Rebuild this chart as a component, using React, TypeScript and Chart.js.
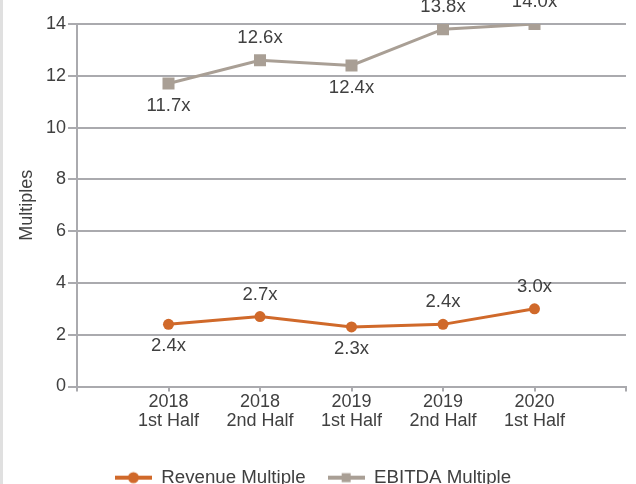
import React, { useEffect, useRef } from "react";
import { Chart, registerables } from "chart.js";

Chart.register(...registerables);

const YEARS = ["2018", "2018", "2019", "2019", "2020"];
const HALVES = ["1st Half", "2nd Half", "1st Half", "2nd Half", "1st Half"];
const REVENUE = [2.4, 2.7, 2.3, 2.4, 3.0];
const EBITDA = [11.7, 12.6, 12.4, 13.8, 14.0];
const REVENUE_LABEL_POS = ["below", "above", "below", "above", "above"];
const EBITDA_LABEL_POS = ["below", "above", "below", "above", "above"];
const Y_MIN = 0;
const Y_MAX = 14;
const Y_STEP = 2;
const SERIES_NAMES = ["Revenue Multiple", "EBITDA Multiple"];

const ORANGE = "#d0692a";
const TAUPE = "#a99f95";
const GRID = "#aaaaae";
const TEXT = "#404040";
const FONT = "'Liberation Sans', Arial, Helvetica, sans-serif";

function makeLegendIcon(color: string, kind: "circle" | "square") {
  const c = document.createElement("canvas");
  c.width = 37;
  c.height = 14;
  const ctx = c.getContext("2d")!;
  ctx.strokeStyle = color;
  ctx.lineWidth = 4;
  ctx.beginPath();
  ctx.moveTo(0, 7);
  ctx.lineTo(37, 7);
  ctx.stroke();
  ctx.fillStyle = color;
  if (kind === "circle") {
    ctx.beginPath();
    ctx.arc(18.5, 7, 5.5, 0, Math.PI * 2);
    ctx.fill();
  } else {
    ctx.fillRect(14, 2.5, 9, 9);
  }
  return c;
}

const valueLabels = {
  id: "valueLabels",
  afterDatasetsDraw(chart: any) {
    const ctx = chart.ctx;
    ctx.save();
    ctx.font = `18.5px ${FONT}`;
    ctx.fillStyle = TEXT;
    ctx.textAlign = "center";
    ctx.textBaseline = "middle";
    chart.data.datasets.forEach((ds: any, di: number) => {
      const meta = chart.getDatasetMeta(di);
      const posArr = ds.labelPos as string[];
      meta.data.forEach((pt: any, i: number) => {
        const v = ds.data[i];
        if (v === null || v === undefined) return;
        const pos = posArr[i - 1];
        const dy = pos === "above" ? -22 : 22;
        ctx.fillText(`${v.toFixed(1)}x`, pt.x, pt.y + dy);
      });
    });
    ctx.restore();
  },
};

export default function App() {
  const ref = useRef<HTMLCanvasElement | null>(null);

  useEffect(() => {
    if (!ref.current) return;
    const labels: any[] = ["", ...YEARS.map((y, i) => [y, HALVES[i]]), ""];
    const icons = [makeLegendIcon(ORANGE, "circle"), makeLegendIcon(TAUPE, "square")];
    const chart = new Chart(ref.current, {
      type: "line",
      data: {
        labels,
        datasets: [
          {
            label: SERIES_NAMES[0],
            data: [null, ...REVENUE, null],
            borderColor: ORANGE,
            backgroundColor: ORANGE,
            borderWidth: 3,
            pointStyle: "circle",
            pointRadius: 5.5,
            pointBorderWidth: 0,
            tension: 0,
            labelPos: REVENUE_LABEL_POS,
          } as any,
          {
            label: SERIES_NAMES[1],
            data: [null, ...EBITDA, null],
            borderColor: TAUPE,
            backgroundColor: TAUPE,
            borderWidth: 3,
            pointStyle: "rect",
            pointRadius: 8.5,
            pointBorderWidth: 0,
            tension: 0,
            labelPos: EBITDA_LABEL_POS,
          } as any,
        ],
      },
      options: {
        responsive: false,
        animation: false,
        layout: { padding: { top: 24, right: 10, left: 0, bottom: 0 } },
        plugins: {
          tooltip: { enabled: false },
          legend: {
            position: "bottom",
            labels: {
              usePointStyle: true,
              pointStyleWidth: 37,
              color: TEXT,
              font: { size: 18.7, family: FONT },
              padding: 22,
              generateLabels(ch: any) {
                const items = (Chart as any).defaults.plugins.legend.labels.generateLabels(ch);
                return items.map((it: any, i: number) => ({ ...it, pointStyle: icons[i], rotation: 0 }));
              },
            },
          },
        },
        scales: {
          x: {
            type: "category",
            offset: false,
            grid: { drawOnChartArea: false, drawTicks: true, tickLength: 5, color: GRID, lineWidth: 2 },
            border: { color: GRID, width: 2 },
            ticks: {
              color: TEXT,
              font: { size: 18, family: FONT, lineHeight: 1.05 },
              padding: 1,
              maxRotation: 0,
              autoSkip: false,
            },
            afterFit(scale: any) {
              scale.height += 15;
            },
          },
          y: {
            min: Y_MIN,
            max: Y_MAX,
            grid: { color: GRID, lineWidth: 2, tickLength: 9 },
            border: { color: GRID, width: 2 },
            ticks: {
              stepSize: Y_STEP,
              color: TEXT,
              font: { size: 18, family: FONT },
              padding: 2,
            },
            title: {
              display: true,
              text: "Multiples",
              color: TEXT,
              font: { size: 18, family: FONT },
              padding: { top: 16, bottom: 0 },
            },
            afterFit(scale: any) {
              scale.width = 77;
            },
          },
        },
      } as any,
      plugins: [valueLabels],
    });
    return () => chart.destroy();
  }, []);

  return (
    <div
      style={{
        position: "fixed",
        left: 0,
        top: 0,
        width: 636,
        height: 484,
        overflow: "hidden",
        background: "#fff",
      }}
    >
      <div style={{ position: "absolute", left: 0, top: 0, width: 3, height: 484, background: "#e0e0e0" }} />
      <canvas
        ref={ref}
        width={636}
        height={497}
        style={{ position: "absolute", left: 0, top: 0, width: 636, height: 497 }}
      />
    </div>
  );
}
